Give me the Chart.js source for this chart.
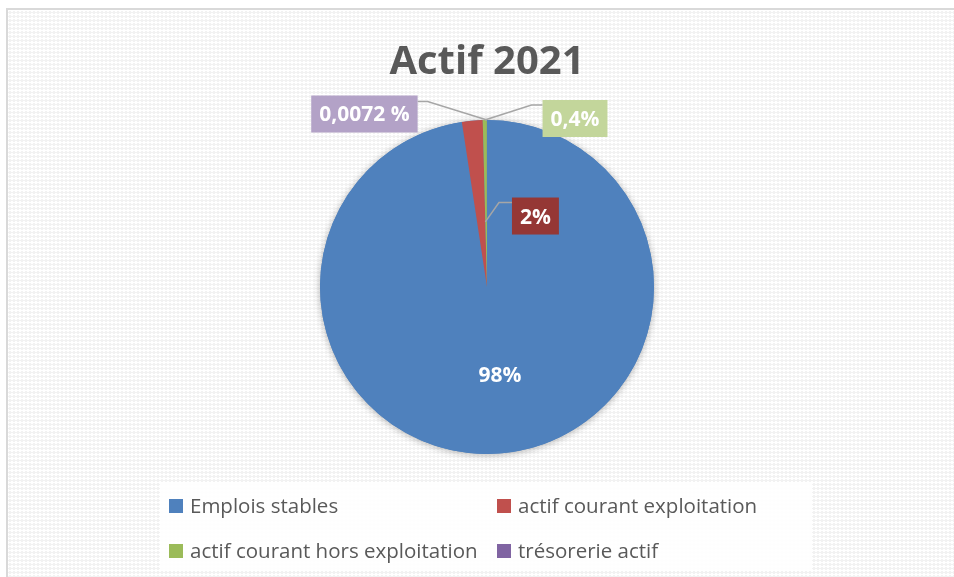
<!DOCTYPE html>
<html>
<head>
<meta charset="utf-8">
<script src="https://cdn.jsdelivr.net/npm/chart.js@4"></script>
<style>
  html, body { margin: 0; padding: 0; background: #ffffff; }
  #c { display: block; }
</style>
</head>
<body>
<canvas id="c" width="954" height="577"></canvas>
<script>
// ---- Data ----
const title = 'Actif 2021';
const categories = ['Emplois stables', 'actif courant exploitation', 'actif courant hors exploitation', 'trésorerie actif'];
const values = [97.6, 2.0, 0.4, 0.0072];
const valueLabels = ['98%', '2%', '0,4%', '0,0072 %'];

// ---- Styles ----
const sliceColors = ['#4F81BD', '#C0504D', '#9BBB59', '#8064A2'];
const labelBoxColors = [null, '#953735', '#C3D69B', '#B3A2C7'];
// label centre offsets from pie centre, in units of the radius
const labelOffsets = [[0.078, 0.524], [0.290, -0.425], [0.527, -1.009], [-0.734, -1.036]];
// leader lines: side of box, vertical offset from box top, horizontal stub, target on slice
const leaders = [
  null,
  { side: 'left', dy: 5, stub: 13, angle: 'end', r: 0.39 },
  { side: 'left', dy: 5, stub: 11, angle: 'mid', r: 1.0 },
  { side: 'right', dy: 6, stub: 10, angle: 'mid', r: 1.0 }
];
const FONT = '"Open Sans", "DejaVu Sans", sans-serif';

function makePattern(ctx) {
  const p = document.createElement('canvas');
  p.width = 8; p.height = 8;
  const pc = p.getContext('2d');
  pc.fillStyle = '#ffffff';
  pc.fillRect(0, 0, 8, 8);
  pc.fillStyle = '#f2f2f2';
  for (let y = 0; y < 8; y++) {
    for (let x = 0; x < 8; x++) {
      const a = Math.floor(((x + y) % 8) / 4);
      const b = Math.floor(((x - y + 16) % 8) / 4);
      if (a === b) pc.fillRect(x, y, 1, 1);
    }
  }
  return ctx.createPattern(p, 'repeat');
}

const backgroundPlugin = {
  id: 'bg',
  beforeDraw(chart) {
    const ctx = chart.ctx;
    const W = chart.width, H = chart.height;
    ctx.save();
    ctx.fillStyle = '#ffffff';
    ctx.fillRect(0, 0, W, H);
    ctx.fillStyle = makePattern(ctx);
    ctx.fillRect(8, 10, W - 8, H - 10);
    ctx.fillStyle = '#d9d9d9';
    ctx.fillRect(6, 8, W - 6, 2);
    ctx.fillRect(6, 8, 2, H - 8);
    ctx.restore();
  }
};

const shadowPlugin = {
  id: 'pieShadow',
  beforeDatasetsDraw(chart) {
    const arc = chart.getDatasetMeta(0).data[0];
    if (!arc) return;
    const ctx = chart.ctx;
    ctx.save();
    ctx.shadowColor = 'rgba(0,0,0,0.30)';
    ctx.shadowBlur = 7;
    ctx.shadowOffsetX = 0;
    ctx.shadowOffsetY = 1;
    ctx.fillStyle = sliceColors[0];
    ctx.beginPath();
    ctx.arc(arc.x, arc.y, arc.outerRadius, 0, Math.PI * 2);
    ctx.fill();
    ctx.restore();
  }
};

const labelPlugin = {
  id: 'valueLabels',
  afterDatasetsDraw(chart) {
    const ctx = chart.ctx;
    const arcs = chart.getDatasetMeta(0).data;
    ctx.save();
    ctx.font = 'bold 21px ' + FONT;
    ctx.textAlign = 'center';
    ctx.textBaseline = 'middle';
    arcs.forEach((arc, i) => {
      const R = arc.outerRadius;
      const cx = arc.x + labelOffsets[i][0] * R;
      const cy = arc.y + labelOffsets[i][1] * R;
      const text = valueLabels[i];
      const tw = ctx.measureText(text).width;
      const bw = tw + 16, bh = 37;
      const bx = cx - bw / 2, by = cy - bh / 2;
      const ld = leaders[i];
      if (ld) {
        const a = ld.angle === 'end' ? arc.endAngle : (arc.startAngle + arc.endAngle) / 2;
        const tx = arc.x + Math.cos(a) * R * ld.r;
        const ty = arc.y + Math.sin(a) * R * ld.r;
        const sx = ld.side === 'left' ? bx : bx + bw;
        const sy = by + ld.dy;
        const mx = ld.side === 'left' ? sx - ld.stub : sx + ld.stub;
        ctx.strokeStyle = '#a6a6a6';
        ctx.lineWidth = 1.5;
        ctx.beginPath();
        ctx.moveTo(sx, sy);
        ctx.lineTo(mx, sy);
        ctx.lineTo(tx, ty);
        ctx.stroke();
      }
      if (labelBoxColors[i]) {
        ctx.fillStyle = labelBoxColors[i];
        ctx.fillRect(bx, by, bw, bh);
      }
      ctx.fillStyle = '#ffffff';
      ctx.fillText(text, cx, cy + 1.5);
    });
    ctx.restore();
  }
};

const legendPlugin = {
  id: 'gridLegend',
  afterDraw(chart) {
    const ctx = chart.ctx;
    ctx.save();
    ctx.fillStyle = 'rgba(255,255,255,0.92)';
    ctx.fillRect(160, 483, 652, 87);
    const colX = [169, 497];
    const rowY = [506, 551];
    ctx.font = '20.5px ' + FONT;
    ctx.textAlign = 'left';
    ctx.textBaseline = 'middle';
    categories.forEach((name, i) => {
      const x = colX[i % 2], y = rowY[Math.floor(i / 2)];
      ctx.fillStyle = sliceColors[i];
      ctx.fillRect(x, y - 7, 14, 14);
      ctx.fillStyle = '#595959';
      ctx.fillText(name, x + 21, y + 1);
    });
    ctx.restore();
  }
};

new Chart(document.getElementById('c'), {
  type: 'pie',
  data: {
    labels: categories,
    datasets: [{
      data: values,
      backgroundColor: sliceColors,
      borderWidth: 0
    }]
  },
  options: {
    responsive: false,
    animation: false,
    devicePixelRatio: 1,
    layout: { padding: { top: 0, bottom: 123, left: 320, right: 300 } },
    plugins: {
      legend: { display: false },
      tooltip: { enabled: false },
      title: {
        display: true,
        text: title,
        color: '#595959',
        font: { family: FONT, size: 40, weight: 'bold', lineHeight: 1.2 },
        padding: { top: 39, bottom: 33 }
      }
    }
  },
  plugins: [backgroundPlugin, shadowPlugin, labelPlugin, legendPlugin]
});
</script>
</body>
</html>
